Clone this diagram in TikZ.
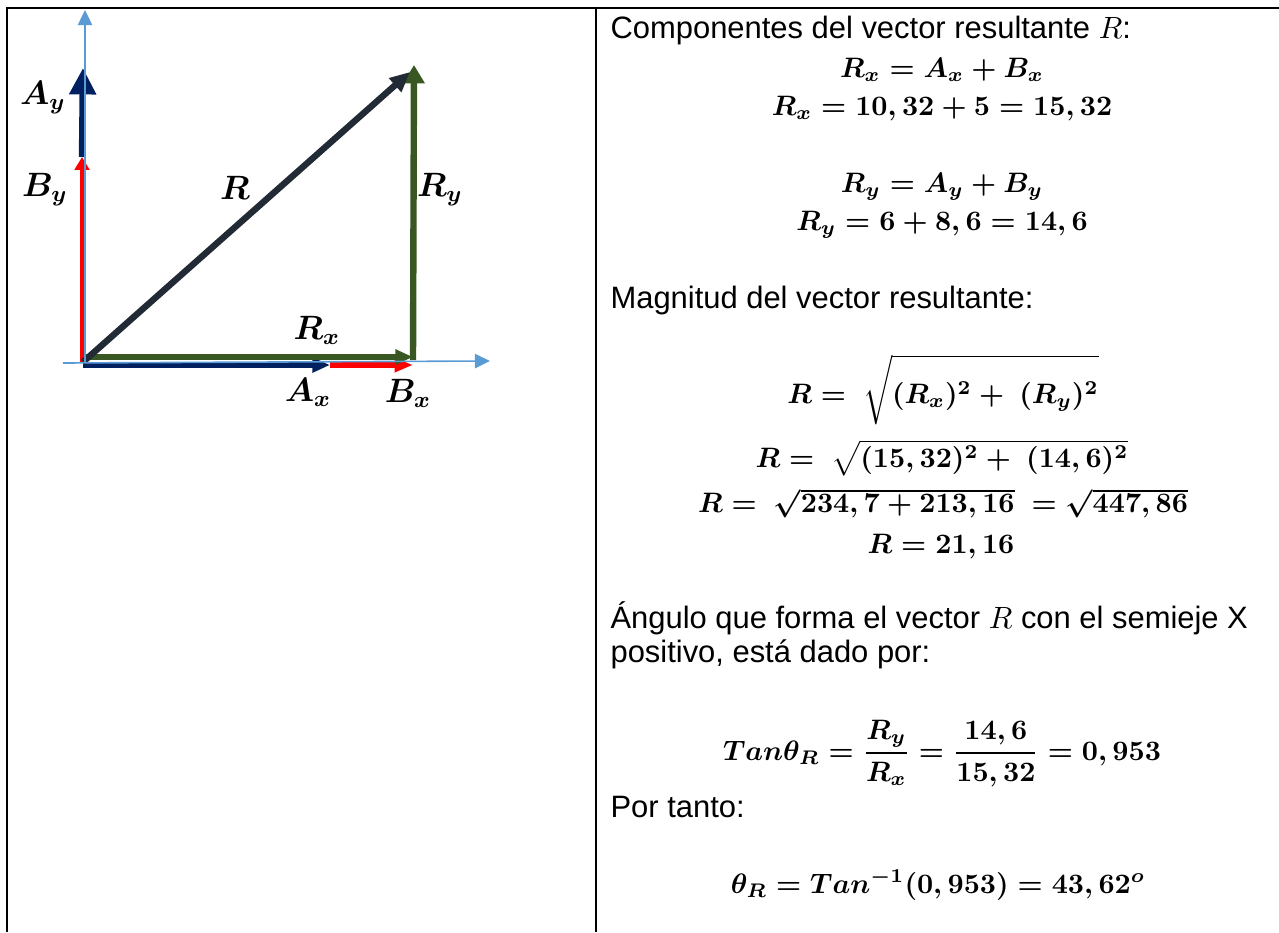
\documentclass[tikz,border=0pt]{standalone}
\usepackage{amsmath,amssymb,bm}
\usepackage{fontspec}
\setmainfont{Liberation Sans}
\usetikzlibrary{arrows.meta, positioning}

\definecolor{axisblue}{HTML}{5B9BD5}
\definecolor{vecnavy}{HTML}{002060}
\definecolor{vecgreen}{HTML}{385723}
\definecolor{vecdark}{HTML}{222A35}

\begin{document}
\begin{tikzpicture}[
    x=0.125mm, y=-0.125mm,
    axis/.style={axisblue, line width=0.2mm, -{Triangle[length=1.9mm, width=1.8mm]}},
    vec/.style={line width=0.8mm, -{Triangle[length=2.2mm, width=1.8mm]}},
    lbl/.style={inner sep=0pt, font=\fontsize{12}{14}\selectfont\boldmath},
    txt/.style={anchor=base west, inner sep=0pt, font=\fontsize{11}{13}\selectfont},
    eq/.style={anchor=base, inner sep=0pt, font=\fontsize{10.3}{12}\selectfont\boldmath}
    ]
    \useasboundingbox (0,0) rectangle (1279,932);

    % Table
    \draw[line width=0.25mm] (7,932) -- (7,8) -- (1279,8);
    \draw[line width=0.25mm] (596,8) -- (596,932);

    % Points
    \coordinate (O) at (83,362);
    \coordinate (xneg) at (63,363);
    \coordinate (xend) at (490,361);
    \coordinate (ytop) at (85,10);
    \coordinate (Ax) at (330,365);
    \coordinate (Bx) at (413,365);
    \coordinate (By) at (82,157);
    \coordinate (Ay) at (83,68);
    \coordinate (Rx) at (413,357);
    \coordinate (Ry) at (414,65);
    \coordinate (R) at (410,72);

    % Components
    \draw[vec, vecnavy] (O |- Ax) -- (Ax);
    \draw[vec, red, -{Triangle[length=2.3mm, width=1.7mm]}] (Ax) -- (Bx);
    \draw[vec, red, line width=0.4mm, -{Triangle[length=1.6mm, width=1.8mm]}] (O -| By) -- (By);
    \draw[vec, vecnavy, -{Triangle[length=3.3mm, width=3.2mm]}] (By) -- (Ay);

    % Resultant
    \draw[vec, vecgreen] (O |- Rx) -- (Rx);
    \draw[vec, vecgreen, -{Triangle[length=2.3mm, width=2.6mm]}] ([yshift=-0.4mm]Rx) -- (Ry);
    \draw[vec, vecdark, -{Triangle[length=2.5mm, width=2.2mm]}] (O) -- (R);

    % Axes
    \draw[axis] (xneg) -- (xend);
    \draw[axis] (O -| ytop) -- (ytop);

    % Labels
    \node[lbl] (lAy) at (43,98) {$A_y$};
    \node[lbl] (lBy) at (45,190) {$B_y$};
    \node[lbl] (lR) at (235,188) {$R$};
    \node[lbl] (lRy) at (440,190) {$R_y$};
    \node[lbl] (lRx) at (317,330) {$R_x$};
    \node[lbl] (lAx) at (308,392) {$A_x$};
    \node[lbl] (lBx) at (408,393) {$B_x$};

    % Right column
    \node[txt] (comp) at (610,38) {Componentes del vector resultante $R$:};
    \node[eq] (rx1) at (942,77) {$R_x = A_x + B_x$};
    \node[eq] (rx2) at (942,115) {$R_x = 10,32 + 5 = 15,32$};
    \node[eq] (ry1) at (942,192) {$R_y = A_y + B_y$};
    \node[eq] (ry2) at (942,230) {$R_y = 6 + 8,6 = 14,6$};
    \node[txt] (mag) at (610,308) {Magnitud del vector resultante:};
    \node[eq] (r1) at (943,403) {$R = \ \sqrt{\rule[-6pt]{0pt}{20pt}(R_x)^2 +\ (R_y)^2}$};
    \node[eq] (r2) at (942,467) {$R = \ \sqrt{(15,32)^2 +\ (14,6)^2}$};
    \node[eq] (r3) at (943,512) {$R = \ \sqrt{234,7 + 213,16}\ = \sqrt{447,86}$};
    \node[eq] (r4) at (941,553) {$R = 21,16$};
    \node[txt] (ang) at (610,628) {Ángulo que forma el vector $R$ con el semieje X};
    \node[txt] (pos) at (610,662) {positivo, está dado por:};
    \node[eq] (tan) at (942,760) {$Tan\theta_R = \dfrac{R_y}{R_x} = \dfrac{14,6}{15,32} = 0,953$};
    \node[txt] (por) at (610,817) {Por tanto:};
    \node[eq] (theta) at (938,893) {$\theta_R = Tan^{-1}(0,953) = 43,62^o$};
\end{tikzpicture}
\end{document}
